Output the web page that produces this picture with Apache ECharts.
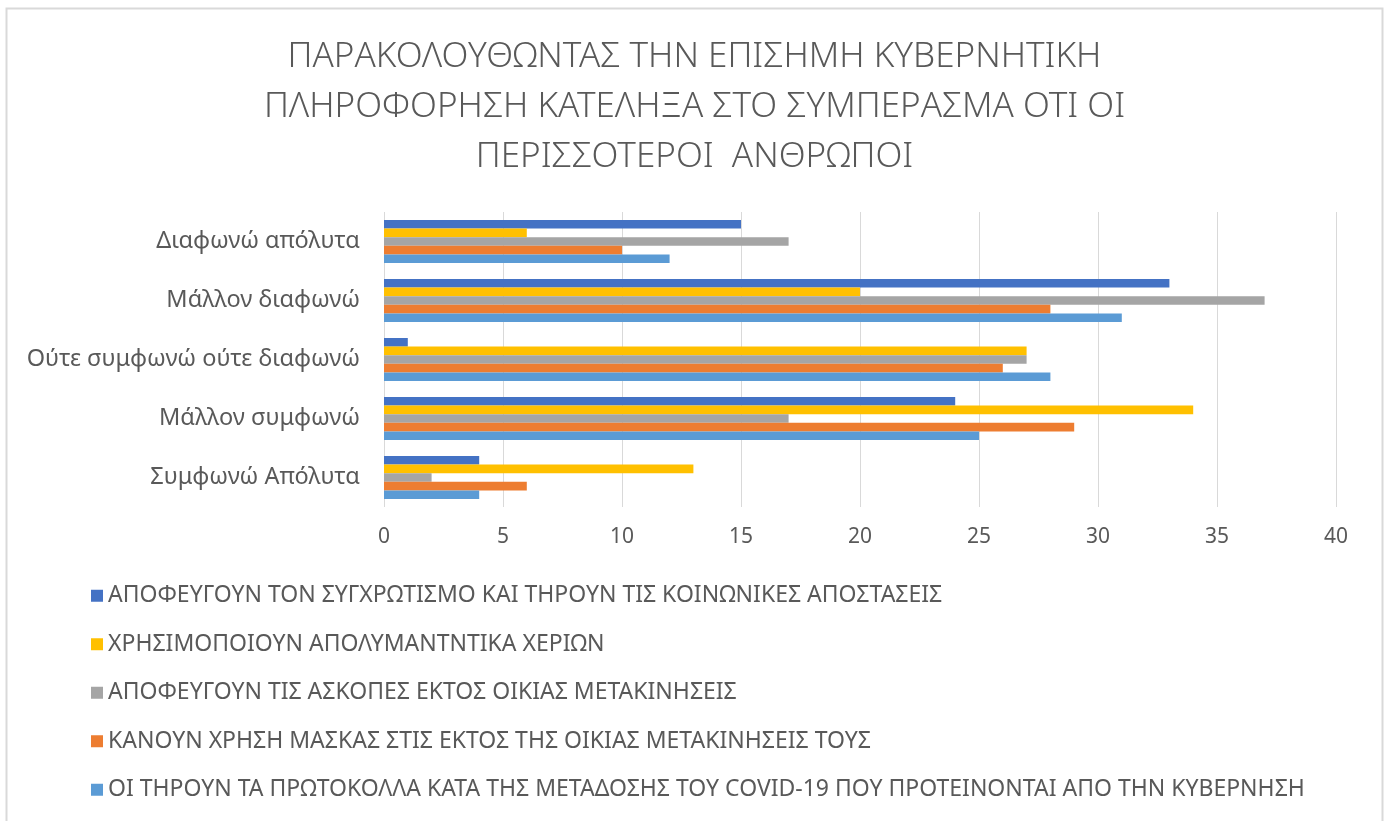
<!DOCTYPE html>
<html>
<head>
<meta charset="utf-8">
<script src="https://cdn.jsdelivr.net/npm/echarts@6/dist/echarts.min.js"></script>
<style>
  html, body { margin: 0; padding: 0; background: #fff; }
  #chart { width: 1389px; height: 821px; }
</style>
</head>
<body>
<div id="chart"></div>
<script>
// categories, bottom to top as ECharts draws a category y axis
const categories = ['Συμφωνώ Απόλυτα', 'Μάλλον συμφωνώ', 'Ούτε συμφωνώ ούτε διαφωνώ', 'Μάλλον διαφωνώ', 'Διαφωνώ απόλυτα']

const seriesNames = [
  'ΑΠΟΦΕΥΓΟΥΝ ΤΟΝ ΣΥΓΧΡΩΤΙΣΜΟ ΚΑΙ ΤΗΡΟΥΝ ΤΙΣ ΚΟΙΝΩΝΙΚΕΣ ΑΠΟΣΤΑΣΕΙΣ',
  'ΧΡΗΣΙΜΟΠΟΙΟΥΝ ΑΠΟΛΥΜΑΝΤΝΤΙΚΑ ΧΕΡΙΩΝ',
  'ΑΠΟΦΕΥΓΟΥΝ ΤΙΣ ΑΣΚΟΠΕΣ ΕΚΤΟΣ ΟΙΚΙΑΣ ΜΕΤΑΚΙΝΗΣΕΙΣ',
  'ΚΑΝΟΥΝ ΧΡΗΣΗ ΜΑΣΚΑΣ ΣΤΙΣ ΕΚΤΟΣ ΤΗΣ ΟΙΚΙΑΣ ΜΕΤΑΚΙΝΗΣΕΙΣ ΤΟΥΣ',
  'ΟΙ ΤΗΡΟΥΝ ΤΑ ΠΡΩΤΟΚΟΛΛΑ ΚΑΤΑ ΤΗΣ ΜΕΤΑΔΟΣΗΣ ΤΟΥ COVID-19 ΠΟΥ ΠΡΟΤΕΙΝΟΝΤΑΙ ΑΠΟ ΤΗΝ ΚΥΒΕΡΝΗΣΗ'
]

const avoidCrowds = [4, 24, 1, 33, 15]
const handSanitizer = [13, 34, 27, 20, 6]
const avoidTrips = [2, 17, 27, 37, 17]
const wearMask = [6, 29, 26, 28, 10]
const followProtocols = [4, 25, 28, 31, 12]

const colors = ['#4472C4', '#FFC000', '#A5A5A5', '#ED7D31', '#5B9BD5']
const xTicks = [0, 5, 10, 15, 20, 25, 30, 35, 40]

const allValues = [avoidCrowds, handSanitizer, avoidTrips, wearMask, followProtocols]

const textColor = '#595959'
const fontFamily = '"Noto Sans", sans-serif'

const chart = echarts.init(document.getElementById('chart'))

const series = seriesNames.map((name, i) => ({
  name,
  type: 'bar',
  data: allValues[i],
  barWidth: 8.6,
  barGap: 0,
  itemStyle: { color: colors[i] }
}))

chart.setOption({
  animation: false,
  textStyle: { fontFamily },
  title: {
    text: 'ΠΑΡΑΚΟΛΟΥΘΩΝΤΑΣ ΤΗΝ ΕΠΙΣΗΜΗ ΚΥΒΕΡΝΗΤΙΚΗ\nΠΛΗΡΟΦΟΡΗΣΗ ΚΑΤΕΛΗΞΑ ΣΤΟ ΣΥΜΠΕΡΑΣΜΑ ΟΤΙ ΟΙ\nΠΕΡΙΣΣΟΤΕΡΟΙ  ΑΝΘΡΩΠΟΙ',
    left: 'center',
    top: 32,
    padding: 0,
    textStyle: {
      color: textColor,
      fontFamily,
      fontSize: 35,
      fontWeight: 300,
      lineHeight: 50
    }
  },
  graphic: [{
    type: 'rect',
    shape: { x: 6.5, y: 8.5, width: 1376, height: 840 },
    style: { fill: 'none', stroke: '#d9d9d9', lineWidth: 2 },
    silent: true
  }],
  legend: {
    orient: 'vertical',
    left: 91,
    top: 584,
    padding: 0,
    icon: 'rect',
    itemWidth: 12,
    itemHeight: 12,
    itemGap: 25,
    data: seriesNames,
    textStyle: { color: textColor, fontSize: 23, lineHeight: 23.5, fontFamily }
  },
  grid: { left: 384, right: 53, top: 212, bottom: 314 },
  xAxis: {
    type: 'value',
    min: xTicks[0],
    max: xTicks[xTicks.length - 1],
    interval: 5,
    axisLine: { show: false },
    axisTick: { show: false },
    splitLine: { lineStyle: { color: '#d9d9d9', width: 1 } },
    axisLabel: { color: textColor, fontSize: 21, margin: 20 }
  },
  yAxis: {
    type: 'category',
    data: categories,
    axisLine: { show: false },
    axisTick: { show: false },
    axisLabel: { color: textColor, fontSize: 23.5, margin: 24 }
  },
  series
})
</script>
</body>
</html>
